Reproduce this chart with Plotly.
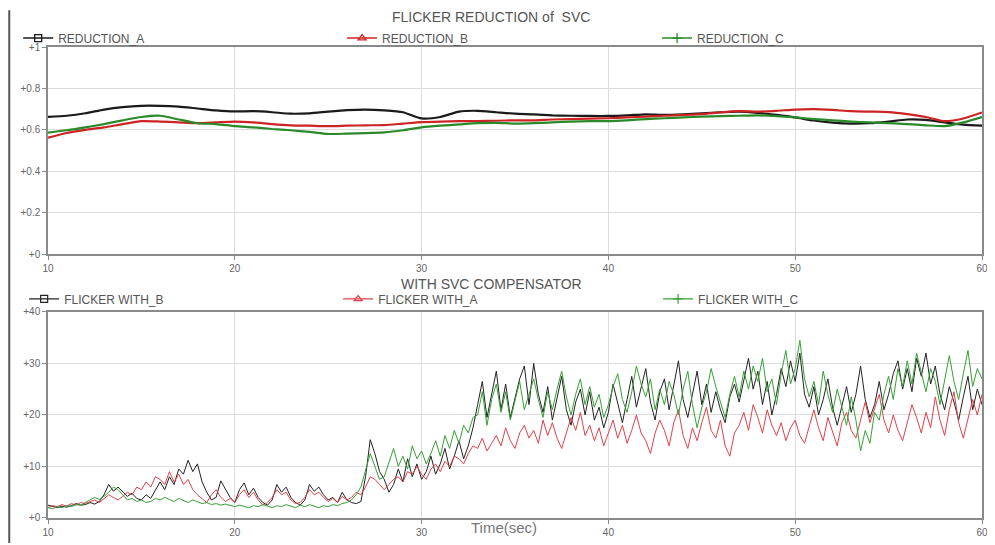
import plotly.graph_objects as go

# ---------------- data ----------------
t_top = list(range(10, 61))
red_a = [0.663, 0.668, 0.680, 0.698, 0.710, 0.716, 0.716, 0.712, 0.703, 0.694,
         0.689, 0.690, 0.685, 0.678, 0.680, 0.688, 0.695, 0.698, 0.694, 0.685,
         0.655, 0.662, 0.688, 0.692, 0.685, 0.678, 0.675, 0.670, 0.668, 0.667,
         0.667, 0.670, 0.675, 0.672, 0.675, 0.680, 0.685, 0.688, 0.682, 0.672,
         0.660, 0.645, 0.635, 0.630, 0.632, 0.640, 0.650, 0.648, 0.636, 0.625, 0.620]
red_b = [0.562, 0.585, 0.600, 0.612, 0.628, 0.642, 0.640, 0.636, 0.632, 0.636,
         0.640, 0.636, 0.628, 0.622, 0.620, 0.618, 0.620, 0.622, 0.623, 0.630,
         0.637, 0.640, 0.642, 0.642, 0.644, 0.646, 0.646, 0.650, 0.652, 0.654,
         0.656, 0.660, 0.664, 0.668, 0.672, 0.676, 0.684, 0.690, 0.688, 0.692,
         0.698, 0.700, 0.696, 0.690, 0.688, 0.686, 0.676, 0.662, 0.642, 0.655, 0.684]
red_c = [0.587, 0.598, 0.612, 0.628, 0.646, 0.662, 0.668, 0.650, 0.632, 0.628,
         0.618, 0.612, 0.604, 0.598, 0.590, 0.580, 0.582, 0.584, 0.588, 0.598,
         0.612, 0.620, 0.626, 0.632, 0.634, 0.630, 0.632, 0.636, 0.640, 0.642,
         0.642, 0.646, 0.652, 0.656, 0.660, 0.664, 0.666, 0.668, 0.670, 0.666,
         0.660, 0.652, 0.646, 0.640, 0.636, 0.632, 0.628, 0.622, 0.618, 0.636, 0.662]

t_bot = [10 + 0.25 * i for i in range(201)]
flick_b = [2.5, 2.2, 2.0, 2.3, 2.1, 2.4, 2.8, 2.5, 2.6, 3.0, 2.7, 3.2,
           4.5, 6.5, 5.2, 6.0, 5.0, 4.2, 4.8, 3.8, 3.5, 4.5, 3.8, 5.5,
           7.0, 5.5, 8.0, 6.5, 9.5, 8.5, 11.2, 9.0, 10.5, 7.0, 5.0, 3.5,
           4.0, 7.2, 5.5, 4.0, 3.0, 5.5, 6.8, 4.5, 5.8, 4.0, 3.0, 2.5,
           3.5, 6.5, 5.0, 6.0, 4.0, 3.0, 2.5, 3.5, 6.5, 5.2, 6.0, 4.5,
           3.5, 4.0, 3.0, 5.0, 3.5, 3.0, 2.8, 3.2, 8.0, 15.2, 12.5, 9.0,
           7.5, 5.0, 6.5, 9.5, 7.0, 11.5, 8.0, 10.5, 7.5, 9.0, 12.0, 8.5,
           10.5, 13.5, 9.5, 12.0, 15.0, 11.5, 14.0, 17.5, 22.0, 26.5, 19.5, 24.0,
           28.5, 21.0, 26.0, 19.5, 23.5, 27.0, 29.5, 22.0, 30.0, 24.0, 20.5, 25.5,
           19.0, 23.5, 27.5, 21.0, 18.0, 22.5, 25.0, 20.0, 24.5, 19.0, 21.5, 17.5,
           20.5, 26.0, 22.0, 18.5, 23.0, 27.5, 21.5, 25.0, 29.0, 22.5, 19.0, 24.5,
           27.0, 21.0, 25.5, 30.5, 23.0, 19.5, 24.0, 28.5, 22.0, 26.0, 20.5, 24.5,
           21.0, 18.5, 23.5, 26.0, 22.5, 27.0, 31.0, 25.0, 28.5, 22.0, 26.5, 20.0,
           24.0, 29.0, 25.5, 30.5, 26.5, 32.0, 24.0, 21.5, 25.5, 20.0, 23.0, 27.0,
           21.5, 18.0, 22.0, 25.5, 20.5, 24.0, 29.5, 23.0, 19.5, 22.0, 26.5, 21.0,
           24.0, 28.0, 30.5, 25.0, 29.0, 24.5, 31.0, 27.5, 32.0, 26.0, 29.5, 24.0,
           21.0, 25.5, 22.5, 19.0, 23.5, 27.5, 21.0, 25.0, 22.0]
flick_a = [2.0, 2.4, 2.2, 2.6, 2.3, 2.8, 2.5, 3.0, 2.8, 3.2, 3.5, 3.0,
           3.8, 4.5, 4.0, 3.5, 4.2, 5.0, 4.5, 6.0, 5.5, 7.0, 6.0, 8.0,
           7.5, 6.5, 9.0, 7.0, 8.5, 6.5, 7.5, 5.5, 4.5, 3.8, 3.0, 4.5,
           5.5, 4.0, 3.2, 3.8, 3.0, 4.5, 5.5, 4.0, 5.0, 3.5, 2.5, 3.0,
           4.0, 5.5, 4.5, 5.0, 3.5, 2.8, 3.0, 4.0, 5.5, 4.5, 5.0, 4.0,
           3.2, 3.8, 3.0, 4.2, 3.5, 4.0, 5.0, 4.5, 6.0, 8.0, 7.5, 6.5,
           5.5, 6.5, 7.5, 8.0, 7.0, 9.0, 8.5, 10.0, 8.5, 7.5, 9.5, 10.5,
           9.0, 11.0, 10.0, 12.0, 11.5, 10.5, 12.5, 14.0, 13.5, 15.5, 13.0, 14.5,
           16.0, 14.0, 17.5, 15.0, 13.5, 16.5, 18.0, 15.5, 17.0, 14.5, 19.0, 16.0,
           18.5, 15.5, 13.5, 16.5, 19.5, 17.0, 20.5, 16.0, 18.0, 15.0, 17.5, 14.0,
           16.5, 19.0, 15.5, 18.0, 14.5, 17.0, 20.0, 16.5, 15.0, 12.5, 16.5, 19.0,
           17.0, 14.0, 18.5, 21.0, 16.0, 13.5, 17.5, 15.0, 18.5, 21.5, 17.0, 15.5,
           19.0, 14.0, 12.0, 16.5, 18.0, 20.5, 17.0, 22.0, 19.5, 16.5, 21.0, 18.0,
           16.0, 18.5, 15.0, 17.5, 19.0, 16.0, 14.5, 18.0, 21.0, 17.5, 15.0, 19.5,
           16.5, 14.0, 18.5, 20.5, 17.0, 15.5, 19.0, 22.5, 18.5, 21.5, 24.0, 19.0,
           16.5, 20.0, 17.0, 15.0, 18.5, 22.0, 19.5, 16.5, 20.5, 17.5, 23.5, 19.0,
           16.0, 21.0, 24.5, 18.5, 15.5, 19.5, 23.0, 20.0, 24.0]
flick_c = [2.0, 1.8, 2.2, 2.0, 2.4, 2.2, 2.6, 2.5, 3.0, 3.5, 4.0, 3.6,
           4.2, 5.0, 6.0, 5.5, 4.5, 3.5, 3.8, 3.2, 3.5, 3.0, 3.2, 3.8,
           3.5, 4.0, 3.6, 3.2, 3.8, 3.4, 3.0, 3.5, 3.2, 2.8, 3.0, 2.6,
           2.8, 2.5, 2.7, 2.4, 2.2, 2.5, 2.3, 2.0, 2.4, 2.2, 2.6, 2.3,
           2.0, 2.4, 2.2, 2.6, 2.3, 2.0, 2.5, 2.2, 2.6, 2.3, 2.0, 2.4,
           2.2, 2.6, 2.4, 2.8, 3.0, 3.5, 4.5, 6.0, 9.5, 12.5, 10.0, 7.5,
           8.0, 11.0, 13.5, 10.0, 12.0, 9.5, 14.0, 11.5, 13.0, 10.5, 12.5, 15.0,
           12.0, 16.0, 13.5, 17.0, 14.5, 18.0, 16.5, 19.5, 20.0, 24.5, 18.0, 23.0,
           26.0, 20.5, 24.5, 19.0, 22.5, 26.5, 21.0, 24.0, 27.0, 23.0, 19.5, 24.5,
           21.0, 25.0, 28.5, 23.5, 20.0, 24.0, 27.0, 22.0, 25.5, 21.5, 24.0, 19.5,
           22.0, 25.5, 28.0, 23.0, 20.5, 24.5, 29.5, 26.0, 23.5, 27.0, 21.0, 25.0,
           22.0, 26.5, 24.0, 20.0, 25.0, 28.5, 22.0, 17.5, 21.5, 24.5, 29.0, 25.5,
           22.5, 19.5, 24.0, 27.5, 23.5, 28.5, 25.0, 29.5, 26.5, 31.0, 24.5, 27.0,
           22.0, 28.0, 32.5, 26.0, 29.0, 34.5, 27.0, 23.5, 26.5, 22.0, 28.5, 24.0,
           20.5, 25.0, 21.5, 18.0, 23.5, 19.0, 13.0, 17.0, 14.5, 20.5, 19.0, 24.0,
           27.5, 23.0, 29.0, 25.5, 30.5, 26.0, 32.0, 28.0, 24.5, 29.0, 26.5, 22.0,
           27.0, 31.5, 26.5, 23.0, 28.0, 32.5, 25.5, 29.0, 27.0]

x_ticks = [10, 20, 30, 40, 50, 60]
x_labels = ["10", "20", "30", "40", "50", "60"]
top_ticks = [0, 0.2, 0.4, 0.6, 0.8, 1]
top_labels = ["+0", "+0.2", "+0.4", "+0.6", "+0.8", "+1"]
bot_ticks = [0, 10, 20, 30, 40]
bot_labels = ["+0", "+10", "+20", "+30", "+40"]

top_names = ["REDUCTION_A", "REDUCTION_B", "REDUCTION_C"]
bot_names = ["FLICKER WITH_B", "FLICKER WITH_A", "FLICKER WITH_C"]

# ---------------- geometry (screen px; page body has an 8px margin) ----------------
FONT = "Liberation Sans, Arial, sans-serif"
OFF = 8
W, H = 995 - OFF, 545 - OFF
P_LEFT, P_RIGHT, P_TOP, P_BOT = 48, 988, 47, 520          # plot area in screen px
ML, MR, MT, MB = P_LEFT - OFF, W - (P_RIGHT - OFF), P_TOP - OFF, H - (P_BOT - OFF)
PW = W - ML - MR
PH = H - MT - MB


def px_x(px):
    return (px - OFF - ML) / PW


def px_y(py):
    return (H - MB - (py - OFF)) / PH


symbols = ["square-open", "triangle-up-open", "cross-thin-open"]
top_cols = ["#1a1a1a", "#cc2424", "#2a8a2a"]
bot_cols = ["#222222", "#e0404a", "#35a035"]
top_leg_px = [18, 344, 661]
bot_leg_px = [24, 340, 662]

fig = go.Figure()
legends = {}

top_series = [red_a, red_b, red_c]
for i, (name, ys, col, sym) in enumerate(zip(top_names, top_series, top_cols, symbols)):
    lg = "legend" if i == 0 else f"legend{i + 1}"
    fig.add_trace(go.Scatter(x=t_top, y=ys, mode="lines",
                             line=dict(color=col, width=2.2, shape="spline", smoothing=0.6),
                             xaxis="x", yaxis="y", showlegend=False, hoverinfo="skip"))
    fig.add_trace(go.Scatter(x=[None], y=[None], name=name, mode="lines+markers",
                             line=dict(color=col, width=1.5),
                             marker=dict(symbol=sym, size=7, color=col, line=dict(width=1.3, color=col)),
                             xaxis="x", yaxis="y", legend=lg))
    legends[lg] = dict(x=px_x(top_leg_px[i]), y=px_y(38))

bot_series = [flick_b, flick_a, flick_c]
for i, (name, ys, col, sym) in enumerate(zip(bot_names, bot_series, bot_cols, symbols)):
    lg = f"legend{i + 4}"
    fig.add_trace(go.Scatter(x=t_bot, y=ys, mode="lines", line=dict(color=col, width=1),
                             xaxis="x2", yaxis="y2", showlegend=False, hoverinfo="skip"))
    fig.add_trace(go.Scatter(x=[None], y=[None], name=name, mode="lines+markers",
                             line=dict(color=col, width=1.2),
                             marker=dict(symbol=sym, size=7, color=col, line=dict(width=1.2, color=col)),
                             xaxis="x2", yaxis="y2", legend=lg))
    legends[lg] = dict(x=px_x(bot_leg_px[i]), y=px_y(300))

axis_common = dict(showgrid=True, gridcolor="#dcdcdc", gridwidth=1, showline=True, linecolor="#8a8a8a",
                   linewidth=1.5, mirror=True, ticks="outside", ticklen=4, tickcolor="#888",
                   tickfont=dict(family=FONT, size=10, color="#666"), zeroline=False, fixedrange=True)

layout_legends = {}
for k, v in legends.items():
    layout_legends[k] = dict(orientation="h", x=v["x"], xanchor="left", y=v["y"], yanchor="middle",
                             itemwidth=30, bgcolor="rgba(0,0,0,0)",
                             font=dict(family=FONT, size=12, color="#555"))

fig.update_layout(
    width=W, height=H,
    margin=dict(l=ML, r=MR, t=MT, b=MB),
    paper_bgcolor="white", plot_bgcolor="white",
    font=dict(family=FONT, color="#555"),
    xaxis=dict(domain=[0, 1], range=[10, 60], tickvals=x_ticks, ticktext=x_labels, anchor="y", **axis_common),
    yaxis=dict(domain=[px_y(255), 1], range=[0, 1], tickvals=top_ticks, ticktext=top_labels, anchor="x", **axis_common),
    xaxis2=dict(domain=[0, 1], range=[10, 60], tickvals=x_ticks, ticktext=x_labels, anchor="y2", **axis_common),
    yaxis2=dict(domain=[0, px_y(313)], range=[0, 40], tickvals=bot_ticks, ticktext=bot_labels, anchor="x2", **axis_common),
    annotations=[
        dict(text="FLICKER REDUCTION of  SVC", xref="paper", yref="paper", x=px_x(494), y=px_y(17),
             showarrow=False, font=dict(family=FONT, size=14, color="#555"), xanchor="center", yanchor="middle"),
        dict(text="WITH SVC COMPENSATOR", xref="paper", yref="paper", x=px_x(494), y=px_y(285),
             showarrow=False, font=dict(family=FONT, size=14, color="#555"), xanchor="center", yanchor="middle"),
        dict(text="Time(sec)", xref="paper", yref="paper", x=px_x(507), y=px_y(530),
             showarrow=False, font=dict(family=FONT, size=15, color="#777"), xanchor="center", yanchor="middle"),
    ],
    shapes=[
        dict(type="line", xref="paper", yref="paper", x0=px_x(9), x1=px_x(9), y0=px_y(545), y1=px_y(10),
             line=dict(color="#555", width=2)),
    ],
    **layout_legends,
)

fig.write_html("out.html")
